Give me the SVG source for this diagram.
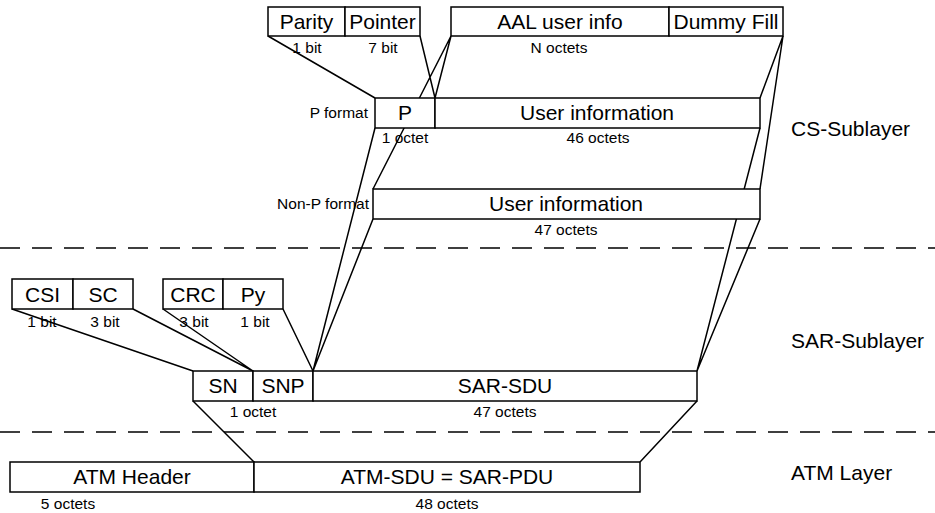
<svg xmlns="http://www.w3.org/2000/svg" width="935" height="513" viewBox="0 0 935 513">
<style>
.b{fill:#fff;stroke:#000;stroke-width:1.5}
.l{stroke:#000;stroke-width:1.5;fill:none}
.d{stroke:#000;stroke-width:1.6;stroke-dasharray:20 12;fill:none}
text{font-family:"Liberation Sans",Arial,sans-serif;fill:#000}
.t{font-size:21px;text-anchor:middle}
.s{font-size:15.5px;text-anchor:middle}
.r{font-size:15.5px;text-anchor:end}
.g{font-size:21px}
</style>
<rect width="935" height="513" fill="#fff"/>
<g id="connectors">
<path class="l" d="M268,36 L375,98 M420,36 L435,98 M451,36 L435,98 M451,36 L373,189 M783,36 L760,98 M783,36 L760,189"/>
<path class="l" d="M375,128 L313,371 M373,219 L313,371 M760,128 L697,371 M760,219 L697,371"/>
<path class="l" d="M12,309 L193,371 M133,309 L253,371 M163,309 L253,371 M283,309 L313,371"/>
<path class="l" d="M193,401 L254,462 M697,401 L640,462"/>
</g>
<g id="layer-lines">
<line class="d" x1="0" y1="248" x2="935" y2="248"/>
<line class="d" x1="0" y1="432" x2="935" y2="432"/>
</g>
<g id="parity-pointer">
<rect class="b" x="268" y="7" width="77" height="29"/>
<rect class="b" x="345" y="7" width="75" height="29"/>
<text class="t" x="306.5" y="29">Parity</text>
<text class="t" x="382.5" y="29">Pointer</text>
<text class="s" x="307" y="53">1 bit</text>
<text class="s" x="383" y="53">7 bit</text>
</g>
<g id="aal-user-info">
<rect class="b" x="451" y="7" width="218" height="29"/>
<rect class="b" x="669" y="7" width="114" height="29"/>
<text class="t" x="560" y="29">AAL user info</text>
<text class="t" x="726" y="29">Dummy Fill</text>
<text class="s" x="559" y="53">N octets</text>
</g>
<g id="p-format">
<rect class="b" x="375" y="98" width="60" height="30"/>
<rect class="b" x="435" y="98" width="325" height="30"/>
<text class="t" x="405" y="120">P</text>
<text class="t" x="597" y="120">User information</text>
<text class="r" x="368" y="118">P format</text>
<text class="s" x="405" y="143">1 octet</text>
<text class="s" x="598" y="143">46 octets</text>
</g>
<g id="non-p-format">
<rect class="b" x="373" y="189" width="387" height="30"/>
<text class="t" x="566" y="211">User information</text>
<text class="r" x="369" y="209">Non-P format</text>
<text class="s" x="566" y="235">47 octets</text>
</g>
<g id="csi-sc">
<rect class="b" x="12" y="279" width="61" height="30"/>
<rect class="b" x="73" y="279" width="60" height="30"/>
<text class="t" x="42.5" y="302">CSI</text>
<text class="t" x="103" y="302">SC</text>
<text class="s" x="42" y="327">1 bit</text>
<text class="s" x="105" y="327">3 bit</text>
</g>
<g id="crc-py">
<rect class="b" x="163" y="279" width="60" height="30"/>
<rect class="b" x="223" y="279" width="60" height="30"/>
<text class="t" x="193" y="302">CRC</text>
<text class="t" x="253" y="302">Py</text>
<text class="s" x="194" y="327">3 bit</text>
<text class="s" x="255" y="327">1 bit</text>
</g>
<g id="sar-pdu">
<rect class="b" x="193" y="371" width="60" height="30"/>
<rect class="b" x="253" y="371" width="60" height="30"/>
<rect class="b" x="313" y="371" width="384" height="30"/>
<text class="t" x="223" y="393">SN</text>
<text class="t" x="283" y="393">SNP</text>
<text class="t" x="505" y="393">SAR-SDU</text>
<text class="s" x="253" y="417">1 octet</text>
<text class="s" x="505" y="417">47 octets</text>
</g>
<g id="atm-cell">
<rect class="b" x="10" y="462" width="244" height="30"/>
<rect class="b" x="254" y="462" width="386" height="30"/>
<text class="t" x="132" y="484">ATM Header</text>
<text class="t" x="447" y="484">ATM-SDU = SAR-PDU</text>
<text class="s" x="68" y="509">5 octets</text>
<text class="s" x="447" y="509">48 octets</text>
</g>
<g id="layer-labels">
<text class="g" x="791" y="136">CS-Sublayer</text>
<text class="g" x="791" y="348">SAR-Sublayer</text>
<text class="g" x="791" y="480">ATM Layer</text>
</g>
</svg>
